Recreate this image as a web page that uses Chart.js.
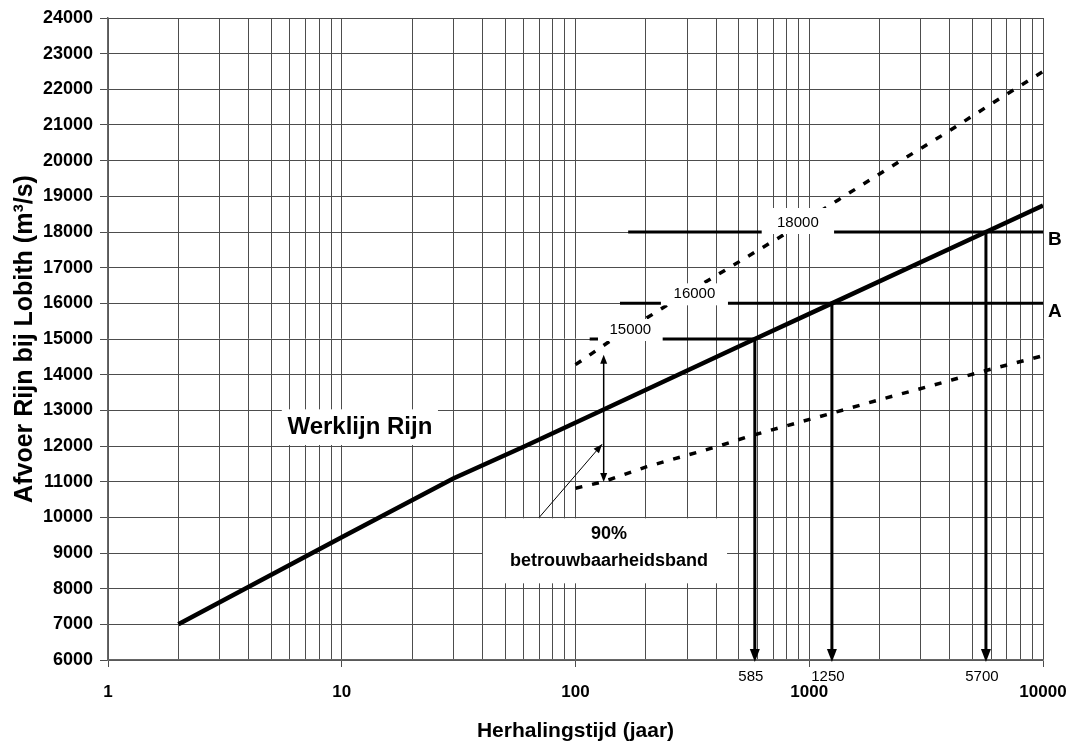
<!DOCTYPE html>
<html lang="nl">
<head>
<meta charset="UTF-8">
<title>Werklijn Rijn</title>
<script src="https://cdn.jsdelivr.net/npm/chart.js"></script>
<style>
  body { margin: 0; background: #fff; }
  .chart-box { position: relative; width: 1076px; height: 747px; }
</style>
</head>
<body>
<div class="chart-box"><canvas id="chart"></canvas></div>
<script>
// Werklijn: herhalingstijd (jaar) -> afvoer (m3/s)
const werklijnT = [2, 10, 30, 61, 130, 585, 1250, 5700, 10000];
const werklijnQ = [7000, 9440, 11090, 12000, 13000, 15000, 16000, 18000, 18740];

// 90% betrouwbaarheidsband
const upperT = [100, 141, 254, 400, 750, 1330, 2450, 3900, 6100, 10000];
const upperQ = [14280, 14950, 16000, 16780, 17860, 18900, 19990, 20800, 21620, 22500];
const lowerT = [100, 132, 202, 402, 557, 900, 1250, 2109, 2925, 4065, 5650, 10000];
const lowerQ = [10815, 11000, 11420, 11980, 12280, 12660, 12920, 13340, 13590, 13850, 14110, 14530];

const levelQ = [15000, 16000, 18000];
const levelStartT = [115, 155, 168];
const levelEndT = [585, 10000, 10000];
const levelNames = ['', 'A', 'B'];
const readT = [585, 1250, 5700];

// band arrow and pointer
const bandArrowT = 132;
const bandArrowQ = [10990, 14560];
const pointerT = [70, 130];
const pointerQ = [10000, 12050];

const xDecades = ['1', '10', '100', '1000', '10000'];
const yMin = 6000, yMax = 24000, yStep = 1000;

const xTitle = 'Herhalingstijd (jaar)';
const yTitle = 'Afvoer Rijn bij Lobith (m\u00b3/s)';

const FONT = "'Liberation Sans', Arial, sans-serif";
Chart.defaults.font.family = FONT;

// log grid: 1..9 per decade
const xGrid = [];
for (let e = 0; e < 4; e++) {
    for (let s = 1; s < 10; s++) xGrid.push(s * Math.pow(10, e));
}
xGrid.push(10000);

function isDecade(v) {
    return xDecades.indexOf(String(v)) !== -1;
}

function pts(ts, qs) {
    return ts.map((t, i) => ({ x: t, y: qs[i] }));
}

const datasets = [
    { data: pts(werklijnT, werklijnQ), borderColor: '#000', borderWidth: 4.5 },
    { data: pts(upperT, upperQ), borderColor: '#000', borderWidth: 3.5, borderDash: [7, 10] },
    { data: pts(lowerT, lowerQ), borderColor: '#000', borderWidth: 3.5, borderDash: [7, 10] }
];
levelQ.forEach((q, i) => {
    datasets.push({ data: [{ x: levelStartT[i], y: q }, { x: levelEndT[i], y: q }], borderColor: '#000', borderWidth: 3 });
});
readT.forEach((t, i) => {
    datasets.push({ data: [{ x: t, y: levelQ[i] }, { x: t, y: yMin + 300 }], borderColor: '#000', borderWidth: 3 });
});
datasets.push({ data: [{ x: bandArrowT, y: bandArrowQ[0] + 150 }, { x: bandArrowT, y: bandArrowQ[1] - 150 }], borderColor: '#000', borderWidth: 1.5 });
datasets.push({ data: pts(pointerT, pointerQ), borderColor: '#000', borderWidth: 1 });

function arrowHead(ctx, x, y, angle, len, half) {
    ctx.save();
    ctx.translate(x, y);
    ctx.rotate(angle);
    ctx.beginPath();
    ctx.moveTo(0, 0);
    ctx.lineTo(-len, -half);
    ctx.lineTo(-len, half);
    ctx.closePath();
    ctx.fill();
    ctx.restore();
}

const annotations = {
    id: 'annotations',
    afterDatasetsDraw(chart) {
        const ctx = chart.ctx;
        const xs = chart.scales.x, ys = chart.scales.y;
        const px = v => xs.getPixelForValue(v);
        const py = v => ys.getPixelForValue(v);
        ctx.save();
        ctx.textAlign = 'center';
        ctx.textBaseline = 'middle';

        // level value boxes (cover lines and grid)
        const boxT = [[124.8, 236], [232, 449], [626, 1277]];
        const boxH = [20, 20, 24];
        levelQ.forEach((q, i) => {
            const x0 = px(boxT[i][0]), x1 = px(boxT[i][1]);
            const yl = py(q);
            ctx.fillStyle = '#fff';
            ctx.fillRect(x0, yl - boxH[i], x1 - x0, boxH[i] + 2);
            ctx.fillStyle = '#000';
            ctx.font = '15px ' + FONT;
            ctx.fillText(String(q), (x0 + x1) / 2, yl - 9.5);
        });

        // Werklijn Rijn
        let x0 = px(5.54), x1 = px(25.8);
        let y0 = py(13000) - 1, y1 = py(12000) - 1;
        ctx.fillStyle = '#fff';
        ctx.fillRect(x0, y0, x1 - x0, y1 - y0);
        ctx.fillStyle = '#000';
        ctx.font = 'bold 24px ' + FONT;
        ctx.fillText('Werklijn Rijn', (x0 + x1) / 2, (y0 + y1) / 2);

        // 90% band
        x0 = px(40.2); x1 = px(445);
        y0 = py(10000) + 1; y1 = py(8150);
        ctx.fillStyle = '#fff';
        ctx.fillRect(x0, y0, x1 - x0, y1 - y0);
        ctx.fillStyle = '#000';
        ctx.font = 'bold 18px ' + FONT;
        ctx.fillText('90%', (x0 + x1) / 2 + 4, y0 + 16);
        ctx.fillText('betrouwbaarheidsband', (x0 + x1) / 2 + 4, y0 + 43);

        // read-off arrows down to the axis
        ctx.font = '15px ' + FONT;
        readT.forEach(t => {
            const x = px(t);
            arrowHead(ctx, x, py(yMin) + 2, Math.PI / 2, 13, 5);
            ctx.fillText(String(t), x - 4, py(yMin) + 17);
        });

        // A / B
        ctx.font = 'bold 19px ' + FONT;
        ctx.textAlign = 'left';
        levelQ.forEach((q, i) => {
            if (levelNames[i]) ctx.fillText(levelNames[i], chart.chartArea.right + 5, py(q) + 8);
        });

        // band double arrow
        const bx = px(bandArrowT);
        arrowHead(ctx, bx, py(bandArrowQ[1]), -Math.PI / 2, 9, 3.5);
        arrowHead(ctx, bx, py(bandArrowQ[0]), Math.PI / 2, 9, 3.5);

        // pointer
        const ax = px(pointerT[0]), ay = py(pointerQ[0]);
        const bxp = px(pointerT[1]), byp = py(pointerQ[1]);
        arrowHead(ctx, bxp, byp, Math.atan2(byp - ay, bxp - ax), 9, 3.5);
        ctx.restore();
    }
};

new Chart(document.getElementById('chart'), {
    type: 'line',
    data: { datasets: datasets },
    plugins: [annotations],
    options: {
        responsive: true,
        maintainAspectRatio: false,
        animation: false,
        layout: { padding: { top: 18, right: 33, bottom: 0, left: 0 } },
        plugins: { legend: { display: false }, tooltip: { enabled: false } },
        elements: { point: { radius: 0 }, line: { tension: 0, fill: false, borderCapStyle: 'butt' } },
        scales: {
            x: {
                type: 'logarithmic',
                min: 1,
                max: 10000,
                afterBuildTicks: s => { s.ticks = xGrid.map(v => ({ value: v })); },
                afterFit: s => { s.height = 87; s.paddingLeft = 0; s.paddingRight = 0; },
                grid: {
                    color: '#4d4d4d',
                    lineWidth: 1,
                    tickLength: 7,
                    tickColor: c => (c.tick && isDecade(c.tick.value)) ? '#4d4d4d' : 'rgba(0,0,0,0)'
                },
                border: { color: '#666', width: 1.5 },
                ticks: {
                    autoSkip: false,
                    maxRotation: 0,
                    padding: 15,
                    color: '#000',
                    font: { size: 17, weight: 'bold' },
                    callback: v => isDecade(v) ? String(v) : ''
                },
                title: { display: true, text: xTitle, color: '#000', font: { size: 21, weight: 'bold' }, padding: { top: 0, bottom: 3 } }
            },
            y: {
                min: yMin,
                max: yMax,
                afterFit: s => { s.width = 108; },
                grid: { color: '#4d4d4d', lineWidth: 1, tickLength: 8, tickColor: '#4d4d4d' },
                border: { color: '#666', width: 1.5 },
                ticks: {
                    stepSize: yStep,
                    padding: 7,
                    color: '#000',
                    font: { size: 18, weight: 'bold' },
                    callback: v => String(v)
                },
                title: { display: true, text: yTitle, color: '#000', font: { size: 25, weight: 'bold' }, padding: { top: 10, bottom: 0 } }
            }
        }
    }
});
</script>
</body>
</html>
